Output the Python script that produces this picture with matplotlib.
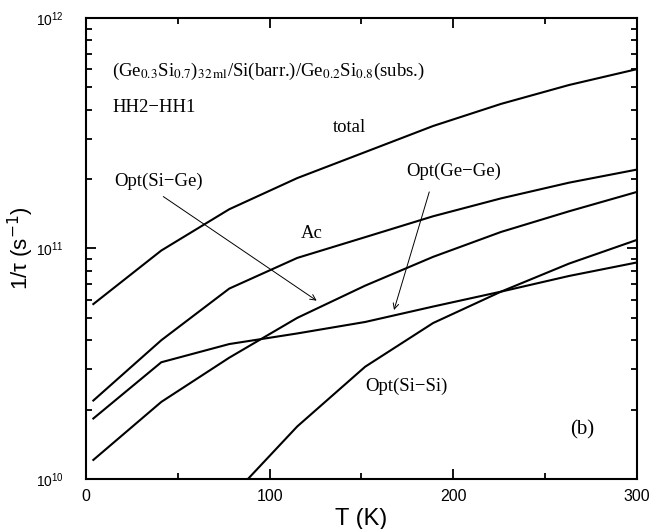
import numpy as np
import matplotlib
matplotlib.use('Agg')
import matplotlib.pyplot as plt
from matplotlib.ticker import FixedLocator, LogLocator, NullFormatter

# temperature grid (K)
temp = [4, 41, 78, 115, 152, 189, 226, 263, 300]

# scattering rates 1/tau (s^-1)
rate_total = [5.74e10, 9.8e10, 1.48e11, 2.02e11, 2.62e11, 3.40e11, 4.24e11, 5.12e11, 6.0e11]
rate_ac = [2.19e10, 4.0e10, 6.7e10, 9.1e10, 1.12e11, 1.38e11, 1.65e11, 1.93e11, 2.2e11]
rate_sige = [1.21e10, 2.16e10, 3.36e10, 5.0e10, 6.9e10, 9.2e10, 1.18e11, 1.45e11, 1.76e11]
rate_gege = [1.83e10, 3.21e10, 3.85e10, 4.28e10, 4.8e10, 5.6e10, 6.5e10, 7.6e10, 8.7e10]
temp_sisi = [78, 115, 152, 189, 226, 263, 300]
rate_sisi = [8.2e9, 1.69e10, 3.07e10, 4.75e10, 6.5e10, 8.6e10, 1.09e11]

x_ticks = [0, 100, 200, 300]
x_minor = [50, 150, 250]

plt.rcParams['font.family'] = ['Liberation Sans', 'DejaVu Sans']
serif = ['Liberation Serif', 'DejaVu Serif']

fig = plt.figure(figsize = (6.49, 5.29), dpi = 100)
ax = fig.add_axes([0.1325, 0.0945, 0.849, 0.8715])

for xs, ys in [(temp, rate_total), (temp, rate_ac), (temp, rate_sige),
               (temp, rate_gege), (temp_sisi, rate_sisi)]:
    ax.plot(xs, ys, color = 'black', linewidth = 1.5, solid_joinstyle = 'miter')

ax.set_yscale('log')
ax.set_xlim(0, 300)
ax.set_ylim(1e10, 1e12)

ax.xaxis.set_major_locator(FixedLocator(x_ticks))
ax.xaxis.set_minor_locator(FixedLocator(x_minor))
ax.yaxis.set_major_locator(LogLocator(base = 10.0, numticks = 5))
ax.yaxis.set_minor_locator(LogLocator(base = 10.0, subs = np.arange(2, 10), numticks = 20))
ax.yaxis.set_minor_formatter(NullFormatter())

ax.tick_params(which = 'both', direction = 'in', top = True, right = True, width = 1.3)
ax.tick_params(which = 'major', length = 7)
ax.tick_params(which = 'minor', length = 4)
ax.tick_params(axis = 'x', which = 'major', labelsize = 11.5, pad = 7)
ax.tick_params(axis = 'y', which = 'major', labelsize = 10, pad = 16)
for sp in ax.spines.values():
    sp.set_linewidth(1.5)

ax.set_xlabel('T (K)', fontsize = 17, labelpad = 3)
ax.set_ylabel('1/\u03c4 (s$^{-1}$)', fontsize = 16, labelpad = 0)

# annotations
ax.text(14.2, 5.6e11,
        '(Ge$_{0.3}$Si$_{0.7}$)$_{32\\,\\mathrm{ml}}$/Si(barr.)/Ge$_{0.2}$Si$_{0.8}$(subs.)',
        family = serif, math_fontfamily = 'stix', fontsize = 13.5, ha = 'left', va = 'baseline')
ax.text(14.2, 4.07e11, 'HH2\u2212HH1', family = serif, fontsize = 13.5, ha = 'left', va = 'center')
ax.text(143.7, 3.34e11, 'total', family = serif, fontsize = 13.5, ha = 'center', va = 'center')
ax.text(200.4, 2.17e11, 'Opt(Ge\u2212Ge)', family = serif, fontsize = 13.5, ha = 'center', va = 'center')
ax.text(39.7, 1.95e11, 'Opt(Si\u2212Ge)', family = serif, fontsize = 13.5, ha = 'center', va = 'center')
ax.text(123.0, 1.157e11, 'Ac', family = serif, fontsize = 13.5, ha = 'center', va = 'center')
ax.text(174.2, 2.53e10, 'Opt(Si\u2212Si)', family = serif, fontsize = 13.5, ha = 'center', va = 'center')
ax.text(270.1, 1.63e10, '(b)', family = serif, fontsize = 15, ha = 'center', va = 'center')

arrow = dict(arrowstyle = '->', lw = 0.7, color = 'black', shrinkA = 0, shrinkB = 0)
ax.annotate('', xy = (125.6, 5.94e10), xytext = (42.1, 1.68e11), arrowprops = arrow)
ax.annotate('', xy = (167.7, 5.41e10), xytext = (186.9, 1.76e11), arrowprops = arrow)

plt.savefig('out.png', dpi = 100)
